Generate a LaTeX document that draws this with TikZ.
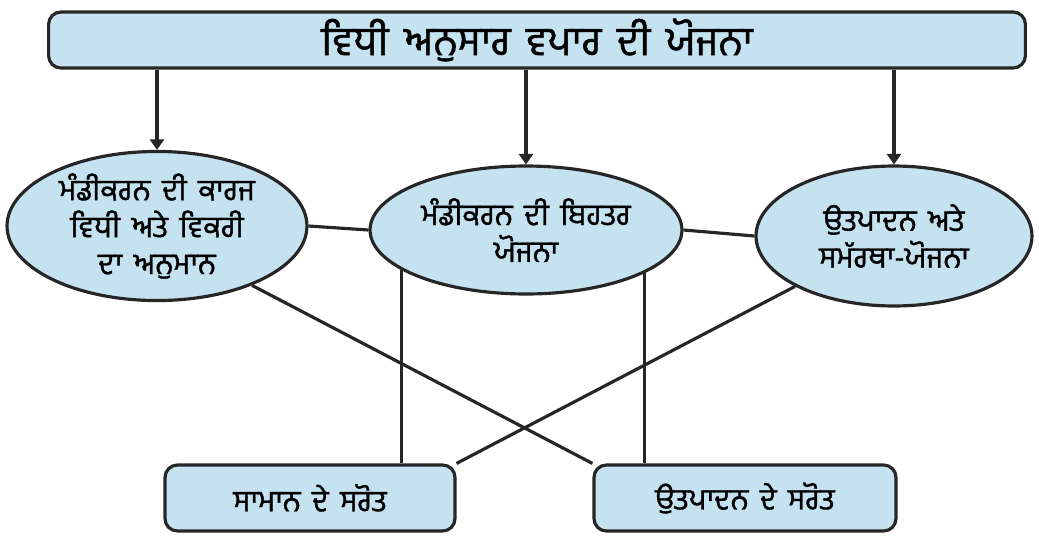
\documentclass[tikz,border=0pt]{standalone}
\usepackage{fontspec}
\newfontfamily\gurmukhi[Script=Gurmukhi, FakeBold=1.2, WordSpace=1.6]{Hind Jalandhar}
\usetikzlibrary{shapes.geometric,arrows.meta,backgrounds}
\definecolor{boxblue}{RGB}{197,226,240}
\definecolor{edge}{RGB}{38,38,38}

\begin{document}
\begin{tikzpicture}[x=0.02cm,y=-0.02cm]
\tikzstyle{box} = [draw=edge, line width=1.8pt, fill=boxblue, rounded corners=7pt, font=\gurmukhi\fontsize{17}{21}\selectfont]
\tikzstyle{oval} = [ellipse, draw=edge, line width=1.8pt, fill=boxblue, inner sep=0pt, align=center, font=\gurmukhi\fontsize{17}{21}\selectfont]
\tikzstyle{link} = [draw=edge, line width=1.8pt]
\useasboundingbox (0,0) rectangle (1039,538);
\node[box, minimum width=19.54cm, minimum height=1.12cm, font=\gurmukhi\fontsize{23}{28}\selectfont](plan) at (537,40) {ਵਿਧੀ ਅਨੁਸਾਰ ਵਪਾਰ ਦੀ ਯੋਜਨਾ};
\node[oval, minimum width=6cm, minimum height=2.68cm](est) at (157,226) {ਮੰਡੀਕਰਨ ਦੀ ਕਾਰਜ\\ ਵਿਧੀ ਅਤੇ ਵਿਕਰੀ\\ ਦਾ ਅਨੁਮਾਨ};
\node[oval, minimum width=6.24cm, minimum height=2.56cm](mkt) at (526,230) {ਮੰਡੀਕਰਨ ਦੀ ਬਿਹਤਰ\\ ਯੋਜਨਾ};
\node[oval, minimum width=5.52cm, minimum height=2.8cm](cap) at (894,236) {ਉਤਪਾਦਨ ਅਤੇ\\ ਸਮੱਰਥਾ-ਯੋਜਨਾ};
\node[box, minimum width=5.8cm, minimum height=1.32cm](mat) at (310,498) {ਸਾਮਾਨ ਦੇ ਸਰੋਤ};
\node[box, minimum width=6.04cm, minimum height=1.32cm](src) at (745,498) {ਉਤਪਾਦਨ ਦੇ ਸਰੋਤ};
% links between the parts
\begin{scope}[on background layer]
\draw[link] (est.east) -- (mkt.west);
\draw[link] (mkt.east) -- (cap.west);
\draw[link] (mkt.198) -- (mkt.198 |- mat.north);
\draw[link] (mkt.340) -- (mkt.340 |- src.north);
\draw[link] (est.328) -- (src.north west);
\draw[link] (cap.207) -- (mat.north east);
\end{scope}
\foreach \n in {est,mkt,cap}
  \draw[link, -{Triangle[length=6pt,width=8pt]}] (plan.south -| \n.north) -- (\n.north);
\end{tikzpicture}
\end{document}
